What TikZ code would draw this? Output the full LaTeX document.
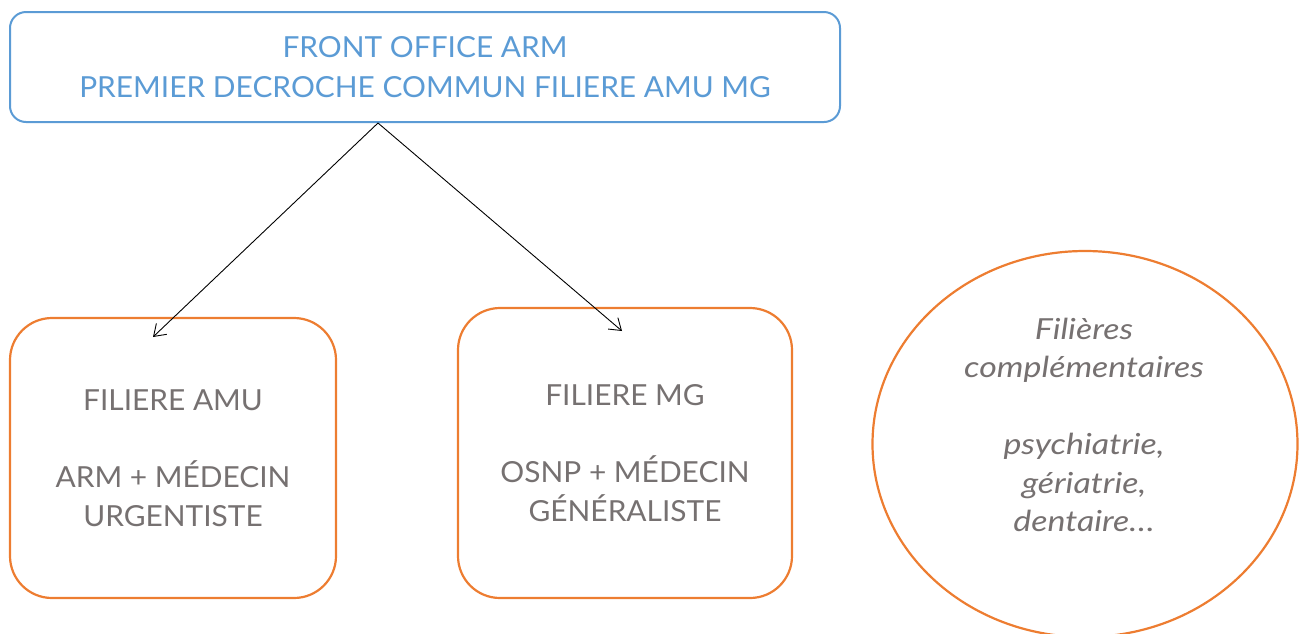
\documentclass[tikz,border=0pt]{standalone}
\usepackage{fontspec}
\setmainfont{Lato}[FakeStretch=1.03, ItalicFeatures={FakeStretch=1.17}]
\usetikzlibrary{arrows.meta,shapes.geometric}
\definecolor{bblue}{HTML}{5B9BD5}
\definecolor{borange}{HTML}{ED7D31}
\definecolor{tgray}{HTML}{767171}
\tikzset{
  topbox/.style={draw=bblue, line width=2pt, rounded corners=16pt, text=bblue,
    minimum width=830pt, minimum height=110pt, align=center, inner sep=0pt,
    font=\fontsize{29}{40}\selectfont},
  filbox/.style={draw=borange, line width=2.2pt, rounded corners=42pt, text=tgray,
    align=center, inner sep=0pt, font=\fontsize{29}{38.5}\selectfont},
  ellbox/.style={draw=borange, line width=2.2pt, ellipse, inner sep=0pt},
  elltext/.style={text=tgray, align=center, font=\fontsize{29}{38.5}\selectfont\itshape},
  conn/.style={draw=black, line width=0.9pt, -{Straight Barb[length=11pt,width=15pt]}}
}
\begin{document}
\begin{tikzpicture}[x=1pt,y=-1pt]
\useasboundingbox (0,0) rectangle (1304,633);
\node[topbox] (top) at (425,67) {FRONT OFFICE ARM\\PREMIER DECROCHE COMMUN FILIERE AMU MG};
\node[filbox, minimum width=326pt, minimum height=280pt] (amu) at (173,458)
  {FILIERE AMU\\[38.5pt]ARM + MÉDECIN\\URGENTISTE};
\node[filbox, minimum width=334pt, minimum height=290pt] (mg) at (625,453)
  {FILIERE MG\\[38.5pt]OSNP + MÉDECIN\\GÉNÉRALISTE};
\node[ellbox, minimum width=425pt, minimum height=386pt] (ell) at (1085,444) {};
\node[elltext] (elltxt) at (1084,425)
  {Filières\\complémentaires\\[38.5pt]psychiatrie,\\gériatrie,\\dentaire…};
\coordinate (a1) at (153,337);
\coordinate (a2) at (622,331);
\draw[conn] (top.south -| 378,0) -- (a1);
\draw[conn] (top.south -| 378,0) -- (a2);
\end{tikzpicture}
\end{document}
